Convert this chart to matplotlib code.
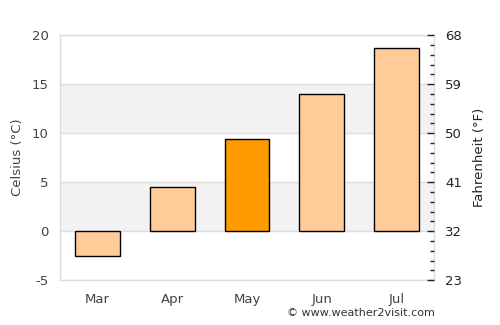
import matplotlib
matplotlib.use("Agg")
import matplotlib.pyplot as plt
from matplotlib.ticker import FixedLocator

months = ["Mar", "Apr", "May", "Jun", "Jul"]
temps_c = [-2.5, 4.5, 9.4, 14.0, 18.7]
highlight = "May"
f_ticks = [23, 32, 41, 50, 59, 68]
c_ticks = [-5, 0, 5, 10, 15, 20]

text_col = "#444444"
grid_col = "#dddddd"
fig = plt.figure(figsize=(5, 3.25), dpi=100)
ax = fig.add_axes([0.12, 0.138, 0.748, 0.754])

# background bands
for lo in (0, 10):
    ax.axhspan(lo, lo + 5, color="#f2f2f2", zorder=0, lw=0)
for y in c_ticks:
    ax.axhline(y, color=grid_col, lw=1, zorder=0.5)

colors = ["#ff9900" if m == highlight else "#ffcc99" for m in months]
ax.bar(range(len(months)), temps_c, width=0.6, color=colors,
       edgecolor="black", linewidth=1, zorder=2)

ax.set_xlim(-0.5, len(months) - 0.5)
ax.set_ylim(-5, 20)
ax.set_yticks(c_ticks)
ax.set_yticklabels([str(t) for t in c_ticks])
ax.set_xticks(range(len(months)))
ax.set_xticklabels(months)
ax.tick_params(axis="both", length=0, colors=text_col, labelsize=9.5, pad=8)
ax.tick_params(axis="x", pad=9)
for s in ax.spines.values():
    s.set_color(grid_col)
    s.set_linewidth(1)
ax.set_ylabel("Celsius (°C)", color=text_col, fontsize=9.5, labelpad=6)

ax2 = ax.twinx()
ax2.set_ylim(-5 * 9 / 5 + 32, 20 * 9 / 5 + 32)
ax2.yaxis.set_major_locator(FixedLocator(f_ticks))
ax2.set_yticklabels([str(t) for t in f_ticks])
minor_f = [c * 9 / 5 + 32 for c in range(-5, 21) if c % 5 != 0]
ax2.yaxis.set_minor_locator(FixedLocator(minor_f))
ax2.tick_params(axis="y", which="major", direction="in", length=5, width=1,
                color="#222222", labelcolor="#222222", labelsize=9.5, pad=8)
ax2.tick_params(axis="y", which="minor", direction="in", length=3, width=1,
                color="#222222")
for s in ax2.spines.values():
    s.set_visible(False)
ax2.set_ylabel("Fahrenheit (°F)", color="#222222", fontsize=9.5, labelpad=8)

fig.text(0.87, 0.037, "© www.weather2visit.com", ha="right", va="center",
         fontsize=8, color="#333333")

fig.savefig("out.png", dpi=100)
